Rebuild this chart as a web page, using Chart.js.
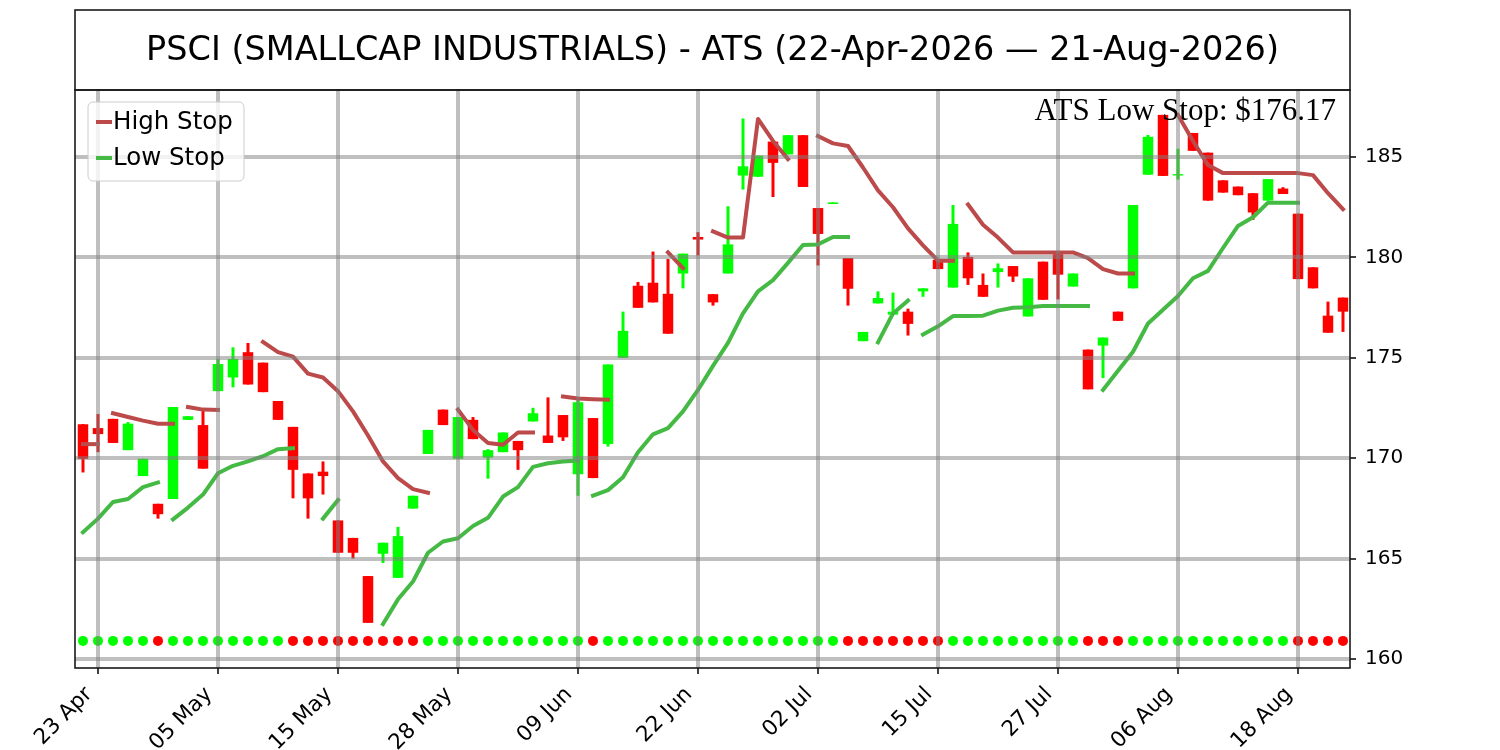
<!DOCTYPE html>
<html>
<head>
<meta charset="utf-8">
<title>PSCI ATS</title>
<script src="https://cdn.jsdelivr.net/npm/chart.js@4.4.1/dist/chart.umd.min.js"></script>
<style>
  html, body { margin: 0; padding: 0; background: #fff; }
  #wrap { width: 1500px; height: 750px; }
</style>
</head>
<body>
<div id="wrap"><canvas id="chart"></canvas></div>
<script>
// trading days, 22 Apr 2026 .. 21 Aug 2026
const dates = [
  "22 Apr", "23 Apr", "24 Apr", "27 Apr", "28 Apr", "29 Apr", "30 Apr", "01 May", "04 May", "05 May",
  "06 May", "07 May", "08 May", "11 May", "12 May", "13 May", "14 May", "15 May", "18 May", "19 May",
  "20 May", "21 May", "22 May", "26 May", "27 May", "28 May", "29 May", "01 Jun", "02 Jun", "03 Jun",
  "04 Jun", "05 Jun", "08 Jun", "09 Jun", "10 Jun", "11 Jun", "12 Jun", "15 Jun", "16 Jun", "17 Jun",
  "18 Jun", "22 Jun", "23 Jun", "24 Jun", "25 Jun", "26 Jun", "29 Jun", "30 Jun", "01 Jul", "02 Jul",
  "06 Jul", "07 Jul", "08 Jul", "09 Jul", "10 Jul", "13 Jul", "14 Jul", "15 Jul", "16 Jul", "17 Jul",
  "20 Jul", "21 Jul", "22 Jul", "23 Jul", "24 Jul", "27 Jul", "28 Jul", "29 Jul", "30 Jul", "31 Jul",
  "03 Aug", "04 Aug", "05 Aug", "06 Aug", "07 Aug", "10 Aug", "11 Aug", "12 Aug", "13 Aug", "14 Aug",
  "17 Aug", "18 Aug", "19 Aug", "20 Aug", "21 Aug"
];

const opens = [
  171.69, 171.50, 171.96, 170.40, 169.11, 167.73, 167.97, 171.91, 171.65, 173.34,
  174.02, 175.28, 174.76, 172.85, 171.56, 169.24, 169.33, 166.90, 166.03, 164.13,
  165.24, 164.04, 167.49, 170.21, 172.42, 169.97, 171.91, 170.03, 170.30, 170.86,
  171.83, 171.13, 172.15, 169.20, 172.00, 170.71, 175.00, 178.59, 178.74, 178.19,
  179.20, 181.02, 178.17, 179.20, 184.08, 184.02, 185.77, 185.13, 186.09, 182.46,
  182.66, 179.97, 175.83, 177.71, 177.15, 177.30, 178.31, 179.88, 178.50, 180.03,
  178.63, 179.27, 179.57, 177.06, 179.79, 180.16, 178.55, 175.41, 175.61, 177.30,
  178.46, 184.12, 187.10, 184.08, 186.20, 185.22, 183.84, 183.53, 183.20, 182.83,
  183.43, 182.18, 179.51, 177.10, 178.00
];
const highs = [
  171.70, 172.20, 171.96, 171.80, 169.97, 167.73, 172.55, 172.09, 172.48, 174.94,
  175.52, 175.74, 174.76, 172.85, 171.56, 169.24, 169.84, 166.90, 166.03, 164.13,
  165.79, 166.58, 168.13, 171.41, 172.42, 172.05, 172.05, 170.45, 171.28, 170.86,
  172.51, 173.03, 172.15, 172.92, 172.00, 174.67, 177.30, 178.78, 180.29, 179.92,
  180.19, 181.26, 178.17, 182.55, 186.92, 185.07, 185.77, 186.09, 186.09, 182.46,
  182.74, 179.97, 176.29, 178.31, 178.25, 177.45, 178.46, 179.88, 182.61, 180.25,
  179.20, 179.70, 179.57, 178.96, 179.79, 180.25, 179.20, 175.41, 176.01, 177.30,
  182.61, 186.10, 187.10, 185.41, 186.20, 185.22, 183.84, 183.53, 183.20, 183.90,
  183.50, 182.18, 179.51, 177.80, 178.00
];
const lows = [
  169.29, 170.30, 170.76, 170.40, 169.11, 166.99, 167.97, 171.91, 169.48, 173.34,
  173.53, 173.67, 173.29, 171.91, 168.00, 166.99, 168.19, 165.29, 165.00, 161.80,
  164.78, 164.04, 167.49, 170.21, 171.65, 169.97, 170.95, 168.98, 170.30, 169.42,
  171.83, 170.76, 170.86, 168.13, 169.01, 170.58, 175.00, 177.49, 177.76, 176.20,
  178.46, 180.10, 177.60, 179.20, 183.38, 184.02, 183.01, 185.13, 183.51, 179.60,
  182.66, 177.60, 175.83, 177.71, 177.15, 176.11, 178.04, 179.42, 178.50, 178.63,
  178.04, 178.50, 178.78, 177.06, 177.89, 177.91, 178.55, 173.43, 173.99, 176.84,
  178.46, 184.12, 184.06, 183.88, 185.31, 182.83, 183.23, 183.10, 181.87, 182.83,
  183.16, 178.92, 178.46, 176.25, 176.29
];
const closes = [
  169.97, 171.20, 170.76, 171.72, 169.97, 167.21, 172.55, 172.09, 169.48, 174.69,
  174.94, 173.67, 173.29, 171.91, 169.42, 168.00, 169.11, 165.29, 165.29, 161.80,
  165.79, 166.12, 168.13, 171.41, 171.65, 172.05, 170.95, 170.40, 171.28, 170.40,
  172.24, 170.76, 171.04, 172.79, 169.01, 174.67, 176.34, 177.49, 177.76, 176.20,
  180.19, 180.89, 177.76, 180.65, 184.54, 185.07, 184.71, 186.09, 183.51, 181.17,
  182.74, 178.44, 176.29, 177.98, 177.30, 176.69, 178.46, 179.42, 181.67, 178.96,
  178.04, 179.46, 179.05, 178.96, 177.89, 179.14, 179.20, 173.43, 176.01, 176.84,
  182.61, 186.01, 184.06, 184.15, 185.31, 182.83, 183.23, 183.10, 182.24, 183.90,
  183.16, 178.92, 178.46, 176.25, 177.30
];

// 1 = up signal (green dot), -1 = down signal (red dot)
const trend = [
   1,  1,  1,  1,  1, -1,  1,  1,  1,  1,
   1,  1,  1,  1, -1, -1, -1, -1, -1, -1,
  -1, -1, -1,  1,  1,  1,  1,  1,  1,  1,
   1,  1,  1,  1, -1,  1,  1,  1,  1,  1,
   1,  1,  1,  1,  1,  1,  1,  1,  1,  1,
   1, -1, -1, -1, -1, -1, -1, -1,  1,  1,
   1,  1,  1,  1,  1,  1,  1, -1, -1, -1,
   1,  1,  1,  1,  1,  1,  1,  1,  1,  1,
   1, -1, -1, -1, -1
];

const highStop = [
  170.70, 170.70, 172.24, 172.05, 171.87, 171.72, 171.72, 172.55, 172.42, 172.40,
  null,   null,   175.79, 175.28, 175.06, 174.21, 174.02, 173.34, 172.33, 171.13,
  169.84, 169.01, 168.46, 168.28, null,   172.42, 171.41, 170.76, 170.67, 171.28,
  171.28, null,   173.07, 172.97, 172.94, 172.92, null,   null,   null,   180.25,
  179.46, null,   181.30, 180.99, 180.99, 186.90, 185.80, 184.90, null,   186.05,
  185.68, 185.55, 184.48, 183.34, 182.50, 181.45, 180.60, 179.84, 179.84, 182.64,
  181.63, 180.99, 180.25, 180.25, 180.25, 180.25, 180.25, 179.97, 179.42, 179.20,
  179.20, null,   null,   187.10, 185.80, 184.60, 184.20, 184.20, 184.20, 184.20,
  184.20, 184.20, 184.10, 183.20, 182.40
];
const lowStop = [
  166.31, 166.99, 167.82, 167.97, 168.56, 168.79, 166.95, 167.54, 168.19, 169.25,
  169.62, 169.84, 170.10, 170.45, 170.50, null,   166.99, 167.91, null,   null,
  161.74, 162.97, 163.86, 165.29, 165.85, 166.01, 166.62, 167.03, 168.09, 168.56,
  169.57, 169.75, 169.84, 169.88, 168.13, 168.41, 169.05, 170.30, 171.19, 171.50,
  172.33, 173.40, 174.60, 175.74, 177.21, 178.31, 178.87, 179.73, 180.62, 180.65,
  181.02, 181.02, null,   175.77, 177.21, 177.85, 176.16, 176.57, 177.08, 177.08,
  177.10, 177.35, 177.49, 177.52, 177.58, 177.58, 177.58, 177.58, 173.40, 174.36,
  175.30, 176.71, 177.39, 178.08, 178.96, 179.33, 180.47, 181.57, 182.00, 182.73,
  182.73, 182.73, null,   null,   null
];
// day index where a new stop segment starts right after the previous one
const highStopBreaks = [2, 7, 59];
const lowStopBreaks = [6, 34, 56, 68];

const tickDays = [1, 9, 17, 25, 33, 41, 49, 57, 65, 73, 81];
const yTicks = [160, 165, 170, 175, 180, 185];
const signalLevel = 160.9;
const lastLowStop = 176.17;
const chartTitle = "PSCI (SMALLCAP INDUSTRIALS) - ATS (22-Apr-2026 \u2014 21-Aug-2026)";

const UP = "#00ff00";
const DOWN = "#ff0000";
const HIGH_COLOR = "#bc4a4a";
const LOW_COLOR = "#44ba44";
const GRID = "rgba(128,128,128,0.5)";

const candleColors = closes.map((c, i) => (c >= opens[i] ? UP : DOWN));

// titel, ramme, legend og tekst tegnes selv
const decorPlugin = {
    id: "decor",
    afterDraw(chart) {
        const { ctx, chartArea: a } = chart;
        ctx.save();

        // legend box
        const lx = a.left + 13, ly = a.top + 12, lw = 156, lh = 79;
        ctx.beginPath();
        ctx.roundRect(lx, ly, lw, lh, 5);
        ctx.fillStyle = "rgba(255,255,255,0.8)";
        ctx.fill();
        ctx.strokeStyle = "#cccccc";
        ctx.lineWidth = 1;
        ctx.stroke();
        const entries = [["High Stop", HIGH_COLOR, a.top + 32], ["Low Stop", LOW_COLOR, a.top + 68]];
        ctx.font = "24.5px 'DejaVu Sans'";
        ctx.textBaseline = "middle";
        ctx.textAlign = "left";
        entries.forEach(([label, color, y]) => {
            ctx.strokeStyle = color;
            ctx.lineWidth = 4;
            ctx.beginPath();
            ctx.moveTo(a.left + 21, y);
            ctx.lineTo(a.left + 37, y);
            ctx.stroke();
            ctx.fillStyle = "#000";
            ctx.fillText(label, a.left + 38, y + 1);
        });

        // frames
        ctx.strokeStyle = "#1a1a1a";
        ctx.lineWidth = 1.6;
        ctx.strokeRect(a.left, a.top, a.right - a.left, a.bottom - a.top);
        ctx.strokeRect(a.left, 10, a.right - a.left, a.top - 10);

        // title
        ctx.fillStyle = "#000";
        ctx.font = "33.5px 'DejaVu Sans'";
        ctx.textAlign = "center";
        ctx.textBaseline = "middle";
        ctx.fillText(chartTitle, (a.left + a.right) / 2, 51);

        // last low stop
        ctx.font = "31px 'Liberation Serif'";
        ctx.textAlign = "right";
        ctx.textBaseline = "alphabetic";
        ctx.fillText("ATS Low Stop: $" + lastLowStop.toFixed(2), a.right - 14, 120);

        ctx.restore();
    }
};

function stopSegment(breaks, color) {
    return { borderColor: (c) => (breaks.includes(c.p1DataIndex) ? "transparent" : color) };
}

const ctx = document.getElementById("chart").getContext("2d");

new Chart(ctx, {
    type: "bar",
    data: {
        datasets: [
            {
                label: "wicks",
                data: dates.map((d, i) => ({ x: i, y: [lows[i], highs[i]] })),
                backgroundColor: candleColors,
                borderWidth: 0,
                grouped: false,
                categoryPercentage: 1,
                barPercentage: 0.2,
                order: 4
            },
            {
                label: "bodies",
                data: dates.map((d, i) => ({ x: i, y: [opens[i], closes[i]] })),
                backgroundColor: candleColors,
                borderWidth: 0,
                grouped: false,
                categoryPercentage: 1,
                barPercentage: 0.7,
                order: 3
            },
            {
                type: "line",
                label: "High Stop",
                data: highStop.map((v, i) => ({ x: i, y: v })),
                borderColor: HIGH_COLOR,
                borderWidth: 4,
                borderCapStyle: "square",
                borderJoinStyle: "round",
                pointRadius: 0,
                spanGaps: false,
                segment: stopSegment(highStopBreaks, HIGH_COLOR),
                order: 2
            },
            {
                type: "line",
                label: "Low Stop",
                data: lowStop.map((v, i) => ({ x: i, y: v })),
                borderColor: LOW_COLOR,
                borderWidth: 4,
                borderCapStyle: "square",
                borderJoinStyle: "round",
                pointRadius: 0,
                spanGaps: false,
                segment: stopSegment(lowStopBreaks, LOW_COLOR),
                order: 2
            },
            {
                type: "line",
                label: "signal",
                data: trend.map((t, i) => ({ x: i, y: signalLevel })),
                showLine: false,
                pointRadius: 5,
                pointBorderWidth: 0,
                pointBackgroundColor: trend.map((t) => (t > 0 ? UP : DOWN)),
                order: 1
            }
        ]
    },
    options: {
        responsive: true,
        maintainAspectRatio: false,
        animation: false,
        layout: { padding: { left: 75, top: 90, right: 0, bottom: 0 } },
        plugins: {
            legend: { display: false },
            tooltip: { enabled: false }
        },
        scales: {
            x: {
                type: "linear",
                offset: false,
                min: -0.533,
                max: 84.467,
                afterBuildTicks: (scale) => { scale.ticks = tickDays.map((v) => ({ value: v })); },
                afterFit: (scale) => { scale.height = 82; },
                ticks: {
                    autoSkip: false,
                    maxRotation: 45,
                    minRotation: 45,
                    padding: 8,
                    labelOffset: -9,
                    color: "#000",
                    font: { family: "DejaVu Sans", size: 21.5 },
                    callback: (v) => dates[v]
                },
                grid: {
                    offset: false,
                    z: 1,
                    color: GRID,
                    lineWidth: 4,
                    tickColor: "#000",
                    tickWidth: 1.5,
                    tickLength: 6
                },
                border: { display: false }
            },
            y: {
                position: "right",
                min: 159.55,
                max: 188.34,
                afterBuildTicks: (scale) => { scale.ticks = yTicks.map((v) => ({ value: v })); },
                afterFit: (scale) => { scale.width = 150; },
                ticks: {
                    padding: 9,
                    color: "#000",
                    font: { family: "DejaVu Sans", size: 20 }
                },
                grid: {
                    z: 1,
                    color: GRID,
                    lineWidth: 4,
                    tickColor: "#000",
                    tickWidth: 1.5,
                    tickLength: 6
                },
                border: { display: false }
            }
        }
    },
    plugins: [decorPlugin]
});
</script>
</body>
</html>
